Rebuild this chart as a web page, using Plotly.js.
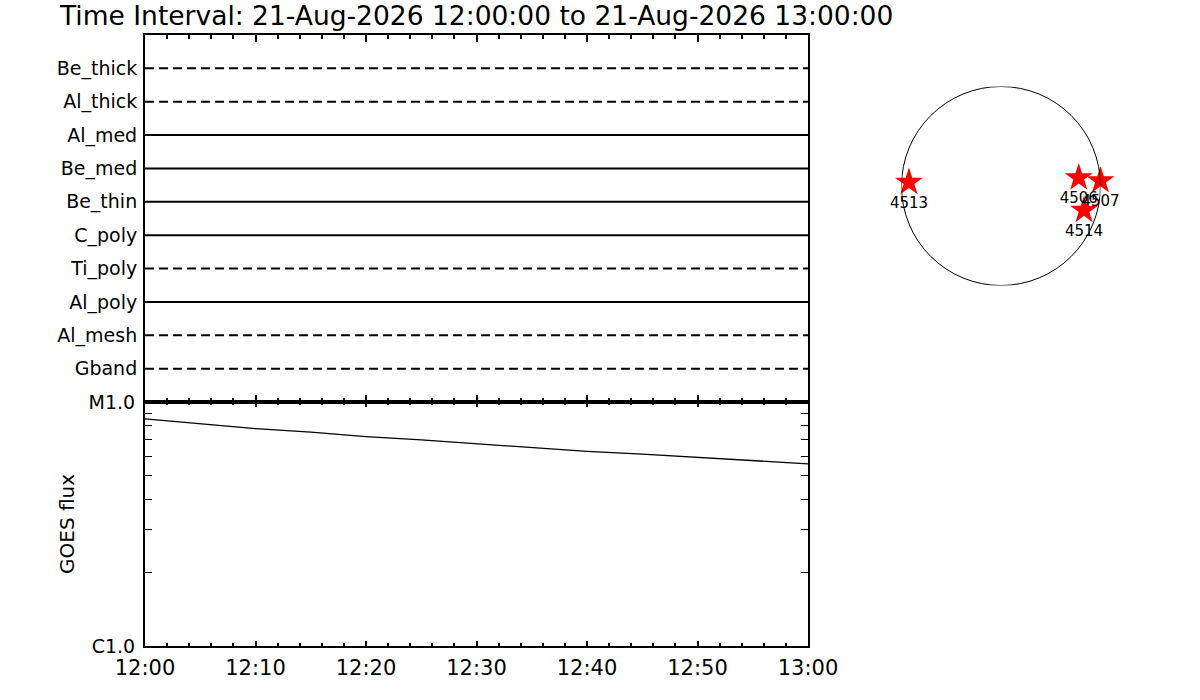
<!DOCTYPE html>
<html>
<head>
<meta charset="utf-8">
<script src="https://cdn.plot.ly/plotly-3.0.1.min.js"></script>
<style>html,body{margin:0;padding:0;background:#fff;}#chart{width:1200px;height:700px;}</style>
</head>
<body>
<div id="chart"></div>
<script>
// ---- data ----
const titleText = "Time Interval: 21-Aug-2026 12:00:00 to 21-Aug-2026 13:00:00";
const timeStart = "2026-08-21 12:00:00";
const timeEnd = "2026-08-21 13:00:00";

// filter channels (bottom to top) and whether drawn dashed
const filterNames = ["Gband", "Al_mesh", "Al_poly", "Ti_poly", "C_poly", "Be_thin", "Be_med", "Al_med", "Al_thick", "Be_thick"];
const filterLevels = [1, 2, 3, 4, 5, 6, 7, 8, 9, 10];
const filterDashed = [true, true, false, true, false, false, false, false, true, true];

// GOES flux (W/m^2)
const goesTimes = [
  "2026-08-21 12:00:00", "2026-08-21 12:05:00", "2026-08-21 12:10:00", "2026-08-21 12:15:00",
  "2026-08-21 12:20:00", "2026-08-21 12:25:00", "2026-08-21 12:30:00", "2026-08-21 12:35:00",
  "2026-08-21 12:40:00", "2026-08-21 12:45:00", "2026-08-21 12:50:00", "2026-08-21 12:55:00",
  "2026-08-21 13:00:00"
];
const goesFlux = [8.52e-6, 8.16e-6, 7.78e-6, 7.52e-6, 7.21e-6, 6.99e-6, 6.73e-6, 6.52e-6, 6.28e-6, 6.11e-6, 5.93e-6, 5.77e-6, 5.58e-6];
const goesTickVals = [1e-6, 1e-5];
const goesTickText = ["C1.0", "M1.0"];
const goesMinorVals = [2e-6, 3e-6, 4e-6, 5e-6, 6e-6, 7e-6, 8e-6, 9e-6];

// active regions on the solar disk (arcsec)
const regionNames = ["4513", "4506", "4507", "4514"];
const regionX = [-888, 750, 960, 801];
const regionY = [36, 79, 51, -234];
const solarRadius = 960;

// ---- traces ----
const traces = [];
filterNames.forEach((name, i) => {
  traces.push({
    x: [timeStart, timeEnd],
    y: [filterLevels[i], filterLevels[i]],
    type: "scatter", mode: "lines",
    xaxis: "x", yaxis: "y",
    line: {color: "#000", width: 2, dash: filterDashed[i] ? "9px,5px" : "solid"},
    showlegend: false, hoverinfo: "skip", name: name
  });
});
traces.push({
  x: goesTimes, y: goesFlux, type: "scatter", mode: "lines",
  xaxis: "x2", yaxis: "y2",
  line: {color: "#000", width: 1.3},
  showlegend: false, name: "GOES"
});
traces.push({
  x: regionX, y: regionY, text: regionNames,
  type: "scatter", mode: "markers+text",
  xaxis: "x3", yaxis: "y3",
  marker: {symbol: "star", size: 21, color: "#ff0000", line: {width: 0}},
  textposition: "bottom center",
  textfont: {family: "DejaVu Sans", size: 15, color: "#000"},
  cliponaxis: false, showlegend: false
});

const fontFam = "DejaVu Sans";
const timeAxisCommon = {
  type: "date",
  range: [timeStart, timeEnd],
  showline: true, linecolor: "#000", linewidth: 2,
  mirror: "ticks",
  ticks: "inside", tickcolor: "#000", tickwidth: 2,
  dtick: 600000,
  showgrid: false, zeroline: false,
  fixedrange: true
};

const layout = {
  width: 1200, height: 700,
  margin: {l: 0, r: 0, t: 0, b: 0},
  paper_bgcolor: "#fff", plot_bgcolor: "rgba(0,0,0,0)",
  font: {family: fontFam, color: "#000"},
  showlegend: false,
  title: {
    text: titleText,
    x: 60 / 1200, xanchor: "left", xref: "paper",
    y: 1 - 16 / 700, yanchor: "middle", yref: "paper",
    font: {family: fontFam, size: 26.5, color: "#000"}
  },
  xaxis: Object.assign({}, timeAxisCommon, {
    domain: [145 / 1200, 808 / 1200],
    anchor: "y",
    showticklabels: false,
    ticklen: 7,
    minor: {dtick: 120000, ticks: "inside", ticklen: 4, tickcolor: "#000", tickwidth: 2, showgrid: false}
  }),
  yaxis: {
    domain: [1 - 402 / 700, 1 - 35 / 700],
    anchor: "x",
    range: [0, 11],
    tickvals: filterLevels, ticktext: filterNames,
    ticks: "", showline: true, linecolor: "#000", linewidth: 2, mirror: true,
    ticklabelstandoff: 2,
    showgrid: false, zeroline: false,
    tickfont: {family: fontFam, size: 19, color: "#000"},
    fixedrange: true
  },
  xaxis2: Object.assign({}, timeAxisCommon, {
    domain: [145 / 1200, 808 / 1200],
    anchor: "y2",
    tickformat: "%H:%M",
    ticklen: 5,
    ticklabelstandoff: 2,
    tickfont: {family: fontFam, size: 21, color: "#000"},
    minor: {dtick: 120000, ticks: "inside", ticklen: 3, tickcolor: "#000", tickwidth: 2, showgrid: false}
  }),
  yaxis2: {
    domain: [1 - 646 / 700, 1 - 402 / 700],
    anchor: "x2",
    type: "log",
    range: [-6, -5],
    tickvals: goesTickVals, ticktext: goesTickText,
    ticks: "inside", ticklen: 8, tickcolor: "#000", tickwidth: 1,
    showline: true, linecolor: "#000", linewidth: 2, mirror: "ticks",
    minor: {tickvals: goesMinorVals, ticks: "inside", ticklen: 7, tickcolor: "#000", tickwidth: 1, showgrid: false},
    ticklabelstandoff: 4,
    showgrid: false, zeroline: false,
    tickfont: {family: fontFam, size: 19, color: "#000"},
    fixedrange: true
  },
  xaxis3: {
    domain: [901.5 / 1200, 1100.5 / 1200],
    anchor: "y3",
    range: [-solarRadius, solarRadius],
    visible: false, fixedrange: true
  },
  yaxis3: {
    domain: [1 - 285.5 / 700, 1 - 86.5 / 700],
    anchor: "x3",
    range: [-solarRadius, solarRadius],
    visible: false, fixedrange: true
  },
  shapes: [{
    type: "circle", xref: "x3", yref: "y3",
    x0: -solarRadius, x1: solarRadius, y0: -solarRadius, y1: solarRadius,
    line: {color: "#000", width: 1}, layer: "above"
  }],
  annotations: [{
    text: "GOES flux", xref: "paper", yref: "paper",
    x: 67 / 1200, y: 1 - 524 / 700, xanchor: "center", yanchor: "middle",
    textangle: -90, showarrow: false,
    font: {family: fontFam, size: 20, color: "#000"}
  }]
};

Plotly.newPlot("chart", traces, layout, {displayModeBar: false, staticPlot: true});
</script>
</body>
</html>
